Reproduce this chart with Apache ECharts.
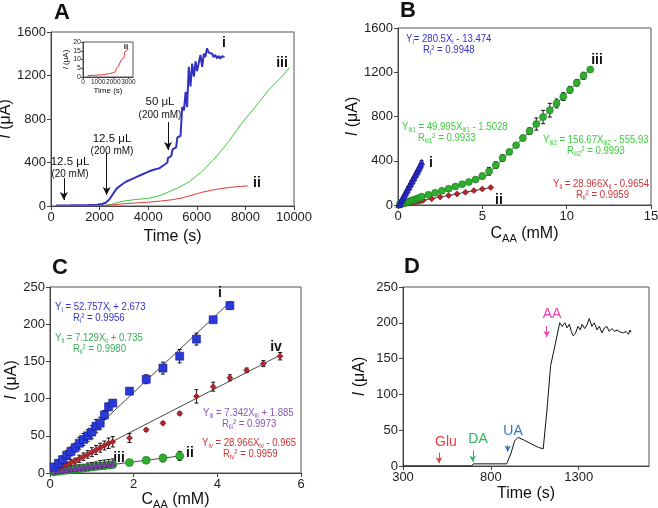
<!DOCTYPE html>
<html><head><meta charset="utf-8">
<script src="https://cdn.jsdelivr.net/npm/echarts@6/dist/echarts.min.js"></script>
<style>html,body{margin:0;padding:0;background:#fff}#c{width:658px;height:508px}</style>
</head><body><div id="c"></div>
<script>
// ---------- Panel A : current vs time ----------
const aTimeI = [200,800,1400,1900,2100,2250,2400,2550,2700,2900,3100,3300,3500,3700,3900,4050,4250,4450,4650,4790,4810,4950,5000,5150,5200,5330,5400,5470,5540,5600,5670,5740,5810,5880,5950,6010,6150,6220,6290,6350,6420,6490,6560,6630,6690,6760,6830,6900,6970,7030,7140];
const aValI  = [5,6,8,12,18,30,60,110,160,195,225,245,265,285,305,320,335,346,377,400,440,460,520,540,630,645,910,880,1050,910,1280,1100,1310,1190,1330,1240,1390,1280,1400,1370,1450,1410,1415,1400,1370,1390,1358,1380,1355,1378,1370];
const aTimeII = [200,1000,1800,2200,2600,3000,3500,4000,4500,5000,5400,5800,6200,6600,7000,7400,7800,8100];
const aValII  = [2,3,4,6,12,20,28,35,45,58,75,100,125,145,160,172,180,185];
const aTimeIII = [2200,2500,2700,3000,3400,4000,4400,4850,5300,5700,6200,6750,7300,7850,8400,8950,9500,9820];
const aValIII  = [5,15,30,45,58,70,90,130,175,225,315,440,590,760,910,1065,1190,1275];
const insetTime = [300,800,1300,1800,2000,2150,2200,2350,2400,2500,2550,2700,2750,2850,2900,3000];
const insetVal  = [0.8,1,1.3,2,2.5,3,5,6,7.5,8,10,11,14,14.5,15.5,16];
const aArrows = [[530,258,55],[2290,487,101],[4816,772,515]]; // x, yStart, yEnd

// ---------- Panel B : calibration ----------
const bXI = [0.05,0.1,0.15,0.2,0.25,0.3,0.35,0.4,0.45,0.5,0.55,0.6,0.65,0.7,0.75,0.8,0.85,0.9,0.95,1.0,1.05,1.1,1.15,1.2,1.25,1.3,1.35,1.4];
const bYI = [2,12,27,43,55,71,83,99,111,127,139,156,166,183,195,212,222,240,250,268,279,296,306,324,335,352,368,388];
const bEI = [3,4,4,5,5,6,6,6,7,7,7,8,8,8,8,9,9,9,9,10,10,10,10,10,11,11,11,12];
const bXII = [0.1,0.2,0.3,0.4,0.5,0.6,0.7,0.8,0.9,1.0,1.1,1.2,1.3,1.4,1.5,2.0,2.5,3.0,3.5,4.0,4.5,5.0,5.5];
const bYII = [2,5,8,11,14,16,19,22,25,28,31,34,37,40,43,57,72,86,100,115,130,144,158];
const bEII = [2,2,2,2,3,3,3,3,3,3,3,3,4,4,4,4,4,5,5,5,5,5,5];
const bXIII = [0.1,0.2,0.3,0.4,0.5,0.6,0.7,0.8,0.9,1.0,1.1,1.2,1.3,1.4,1.8,2.2,2.6,3.0,3.4,3.8,4.2,4.6,5.0,5.4,5.8,6.2,6.6,7.0,7.4,7.8,8.2,8.6,9.0,9.4,9.8,10.2,10.6,11.0,11.4];
const bYIII = [5,9,14,19,24,29,34,39,44,49,54,60,66,75,92,110,128,147,167,188,208,230,262,305,360,425,480,540,605,668,732,795,857,918,980,1042,1105,1168,1225];
const bEIII = [3,4,5,6,6,8,8,10,12,14,15,18,20,22,14,12,12,14,16,18,18,20,25,35,30,30,22,18,25,30,55,60,62,40,35,30,30,32,8];
const bFits = [ // slope, intercept, xStart, xEnd
  [280.5,-13.474,0.05,1.4],[28.966,-0.9654,0,5.5],[49.995,-1.5028,0,5.0],[156.67,-555.93,5.0,11.4]];

// ---------- Panel C : calibration (low range) ----------
const cXI = [0.1,0.2,0.3,0.4,0.5,0.6,0.7,0.8,0.9,1.0,1.1,1.2,1.3,1.4,1.5,1.9,2.3,2.7,3.1,3.5,3.9,4.3];
const cYI = [8,13,18,24,29,34,40,45,50,55,63,67,78,89,94,110,126,141,157,180,206,225];
const cEI = [5,5,5,6,6,6,8,8,8,9,9,8,6,5,3,4,6,8,9,8,2,5];
const cXII = [0.1,0.2,0.3,0.4,0.5,0.6,0.7,0.8,0.9,1.0,1.1,1.2,1.3,1.4,1.5,1.9,2.3,2.7,3.1];
const cYII = [1.4,2.2,2.9,3.6,4.3,5,5.7,6.4,7.1,7.9,8.6,9.3,10,10.7,11.4,14,17,20,23];
const cEII = [2,2,2,2,3,3,3,3,3,3,3,3,3,3,3,2,3,5,6];
const cXIII = [0.1,0.2,0.3,0.4,0.5,0.6,0.7,0.8,0.9,1.0,1.1,1.2,1.3,1.4,1.5];
const cYIII = [2.6,3.3,4.1,4.8,5.5,6.3,7,7.7,8.5,9.2,9.9,10.7,11.4,12.1,12.9];
const cEIII = [2,2,3,3,3,4,4,4,5,5,5,6,6,6,6];
const cXIV = [0.1,0.2,0.3,0.4,0.5,0.6,0.7,0.8,0.9,1.0,1.1,1.2,1.3,1.4,1.5,1.9,2.3,2.7,3.1,3.5,3.9,4.3,4.7,5.1,5.5];
const cYIV = [2,5,8,11,14,16,19,22,25,28,31,34,37,40,42,47,58,67,80,103,116,128,138,147,157];
const cEIV = [3,3,3,4,4,4,5,5,5,6,6,6,6,7,7,6,2,2,2,9,6,4,3,4,5];
const cFits = [[52.757,2.673,0,4.3],[7.129,0.735,0,3.1],[7.342,1.885,0,1.5],[28.966,-0.965,0,5.5]];

// ---------- Panel D : interference test ----------
const dTime = [300,500,690,700,720,890,900,915,935,955,990,1030,1070,1098,1120,1140,1168,1192,1206,1221,1234,1247,1258,1268,1281,1296,1309,1319,1334,1347,1360,1375,1389,1404,1417,1432,1447,1460,1474,1489,1504,1519,1536,1555,1570,1583,1592,1598];
const dVal  = [0,0,0,3,3,3,5,18,35,40,36,31,26,24,80,140,172,200,195,200,193,198,188,182,185,195,190,198,192,197,206,195,200,190,195,186,193,195,188,192,188,190,187,186,188,184,190,187];
const dMarks = [['Glu',505,18.6,4,'#e8413c'],['DA',697,22,6,'#2fb35a'],['UA',896,29,20,'#2b7bc0'],['AA',1118,195.5,180,'#ee3fb0']];

// ---------- styling helpers ----------
const FONT = 'Liberation Sans, Arial, sans-serif';
const axCol = '#444';
const plain = v => String(v);
function xAx(gi, min, max, interval, name, opts) {
  return Object.assign({type:'value', gridIndex:gi, min, max, interval, name,
    nameLocation:'middle', nameGap:22,
    nameTextStyle:{fontFamily:FONT, fontSize:16, color:'#111', rich:{n:{fontFamily:FONT,fontSize:16,color:'#111'}, s:{fontFamily:FONT,fontSize:11,color:'#111',verticalAlign:'bottom',padding:[10,0,0,0]}}},
    axisLine:{show:true,onZero:false,lineStyle:{color:axCol,width:1}},
    axisTick:{show:true,length:4,lineStyle:{color:axCol}},
    axisLabel:{fontFamily:FONT,fontSize:13,color:'#222',margin:5,showMaxLabel:true,formatter:plain},
    splitLine:{show:false}}, opts||{});
}
function yAx(gi, min, max, interval, opts) {
  return Object.assign({type:'value', gridIndex:gi, min, max, interval, name:'{i|I} (μA)',
    nameLocation:'middle', nameGap:31,
    nameTextStyle:{fontFamily:FONT, fontSize:16, color:'#111', rich:{i:{fontFamily:FONT,fontSize:16,fontStyle:'italic',color:'#111'}}},
    axisLine:{show:true,onZero:false,lineStyle:{color:axCol,width:1}},
    axisTick:{show:true,length:4,lineStyle:{color:axCol}},
    axisLabel:{fontFamily:FONT,fontSize:13,color:'#222',margin:5,formatter:plain},
    splitLine:{show:false}}, opts||{});
}
function zip(xs, ys){ return xs.map((x,i)=>[x,ys[i]]); }
function errSeries(ax, xs, ys, es) {
  return {type:'custom', xAxisIndex:ax, yAxisIndex:ax, z:3, silent:true,
    data: xs.map((x,i)=>[x, ys[i]-es[i], ys[i]+es[i]]),
    encode:{x:0, y:[1,2]},
    renderItem:(p, api)=>{
      const lo = api.coord([api.value(0), api.value(1)]);
      const hi = api.coord([api.value(0), api.value(2)]);
      const st = {stroke:'#111', lineWidth:1};
      return {type:'group', children:[
        {type:'line', shape:{x1:lo[0],y1:lo[1],x2:hi[0],y2:hi[1]}, style:st},
        {type:'line', shape:{x1:lo[0]-2,y1:lo[1],x2:lo[0]+2,y2:lo[1]}, style:st},
        {type:'line', shape:{x1:hi[0]-2,y1:hi[1],x2:hi[0]+2,y2:hi[1]}, style:st}]};
    }};
}
function fitSeries(ax, f) {
  return {type:'line', xAxisIndex:ax, yAxisIndex:ax, z:2, symbol:'none', silent:true,
    data:[[f[2], f[0]*f[2]+f[1]],[f[3], f[0]*f[3]+f[1]]],
    lineStyle:{color:'#333', width:0.9}};
}
function scat(ax, xs, ys, sym, size, color, border) {
  return {type:'scatter', xAxisIndex:ax, yAxisIndex:ax, z:4, symbol:sym, symbolSize:size,
    data:zip(xs,ys), itemStyle:{color, borderColor:border, borderWidth:0.6, opacity:1}};
}
function eq(x, y, color, parts) {
  const txt = parts.map(p => p[1] ? '{s|'+p[0]+'}' : '{n|'+p[0]+'}').join('');
  return {type:'text', x, y, scaleX:0.87, scaleY:1, style:{text:txt, fill:color, fontFamily:FONT, fontSize:11, verticalAlign:'middle',
    rich:{n:{fontFamily:FONT,fontSize:11,fill:color}, s:{fontFamily:FONT,fontSize:7,fill:color,verticalAlign:'bottom',padding:[6,0,0,0]}}}};
}
function tx(x, y, text, size, color, bold) {
  return {type:'text', x, y, style:{text, fontFamily:FONT, fontSize:size, fontWeight:bold?'bold':'normal', fill:color, align:'center', verticalAlign:'middle'}};
}

const chart = echarts.init(document.getElementById('c'), null, {renderer:'canvas'});
const gridBase = {show:true, borderColor:'#555', borderWidth:1, backgroundColor:'transparent', outerBoundsMode:'none', containLabel:false};
const option = {
  animation:false,
  backgroundColor:'#fff',
  grid:[
    Object.assign({left:51, top:32, width:243, height:174}, gridBase),
    Object.assign({left:83, top:42, width:50, height:35}, gridBase),
    Object.assign({left:398, top:28, width:253, height:177}, gridBase),
    Object.assign({left:50, top:287, width:251, height:186}, gridBase),
    Object.assign({left:403, top:287, width:246, height:179}, gridBase)
  ],
  xAxis:[
    xAx(0, 0, 10000, 2000, 'Time (s)', {nameGap:23}),
    xAx(1, 0, 3300, 1000, 'Time (s)', {nameGap:8, nameTextStyle:{fontFamily:FONT,fontSize:8,color:'#111'},
      axisTick:{show:true,length:2,lineStyle:{color:axCol}}, axisLabel:{fontFamily:FONT,fontSize:6.5,color:'#222',margin:2,showMaxLabel:false,formatter:plain}}),
    xAx(2, 0, 15, 5, '{n|C}{s|AA}{n| (mM)}', {nameGap:18}),
    xAx(3, 0, 6, 2, '{n|C}{s|AA}{n| (mM)}', {nameGap:16}),
    xAx(4, 300, 1700, 500, 'Time (s)', {nameGap:20, axisLabel:{fontFamily:FONT,fontSize:13,color:'#222',margin:5,showMaxLabel:false,formatter:plain}})
  ],
  yAxis:[
    yAx(0, 0, 1600, 400, {nameGap:33}),
    yAx(1, 0, 20, 5, {nameGap:11, nameTextStyle:{fontFamily:FONT,fontSize:8,color:'#111',rich:{i:{fontFamily:FONT,fontSize:8,fontStyle:'italic',color:'#111'}}},
      axisTick:{show:true,length:2,lineStyle:{color:axCol}}, axisLabel:{fontFamily:FONT,fontSize:7,color:'#222',margin:2,formatter:plain}}),
    yAx(2, 0, 1600, 400, {nameGap:33}),
    yAx(3, 0, 250, 50, {nameGap:30}),
    yAx(4, 0, 250, 50, {nameGap:35})
  ],
  series:[
    {type:'line', xAxisIndex:0, yAxisIndex:0, symbol:'none', data:zip(aTimeIII,aValIII), lineStyle:{color:'#3ec63e', width:1}},
    {type:'line', xAxisIndex:0, yAxisIndex:0, symbol:'none', data:zip(aTimeI,aValI), lineStyle:{color:'#3232c2', width:2},
      markLine:{silent:true, symbol:['none','arrow'], symbolSize:[6,8], label:{show:false},
        lineStyle:{color:'#111', width:1, type:'solid'},
        data:aArrows.map(a=>[{coord:[a[0],a[1]]},{coord:[a[0],a[2]]}])}},
    {type:'line', xAxisIndex:0, yAxisIndex:0, symbol:'none', data:zip(aTimeII,aValII), lineStyle:{color:'#e23a3a', width:1}},
    {type:'line', xAxisIndex:1, yAxisIndex:1, symbol:'none', data:zip(insetTime,insetVal), lineStyle:{color:'#e23a3a', width:1}},
    // Panel B
    ...bFits.map(f=>fitSeries(2,f)),
    scat(2, bXII, bYII, 'diamond', 6, '#b3262d', '#7a1014'),
    scat(2, bXIII, bYIII, 'circle', 7, '#2fae2f', '#1b7a1b'),
    scat(2, bXI, bYI, 'triangle', 6, '#2a2ad0', '#1a1a90'),
    errSeries(2, bXIII, bYIII, bEIII),
    errSeries(2, bXI, bYI, bEI),
    errSeries(2, bXII, bYII, bEII),
    // Panel C
    ...cFits.map(f=>fitSeries(3,f)),
    scat(3, cXII, cYII, 'circle', 8, '#2fae2f', '#1b7a1b'),
    scat(3, cXIV, cYIV, 'diamond', 6, '#b3262d', '#7a1014'),
    scat(3, cXIII, cYIII, 'triangle', 6, '#7d3fae', '#50207a'),
    scat(3, cXI, cYI, 'rect', 8, '#2a3ad8', '#1a1a90'),
    errSeries(3, cXI, cYI, cEI),
    errSeries(3, cXII, cYII, cEII),
    errSeries(3, cXIII, cYIII, cEIII),
    errSeries(3, cXIV, cYIV, cEIV),
    // Panel D
    {type:'line', xAxisIndex:4, yAxisIndex:4, symbol:'none', data:zip(dTime,dVal), lineStyle:{color:'#111', width:1},
      markLine:{silent:true, symbol:['none','arrow'], symbolSize:[5,6], label:{show:false},
        data:dMarks.map(m=>[{coord:[m[1],m[2]], lineStyle:{color:m[4],width:1,type:'solid'}},{coord:[m[1],m[3]]}])}}
  ],
  graphic:[
    tx(62,13,'A',22,'#111',true), tx(408,11,'B',22,'#111',true), tx(60,268,'C',22,'#111',true), tx(412,267,'D',22,'#111',true),
    // Panel A annotations
    tx(70,162,'12.5 μL',11.5,'#111'), tx(70,174,'(20 mM)',10,'#111'),
    tx(112,139,'12.5 μL',11.5,'#111'), tx(112,151,'(200 mM)',10,'#111'),
    tx(160,102,'50 μL',11.5,'#111'), tx(160,115,'(200 mM)',10,'#111'),
    tx(224,43,'i',14,'#111',true), tx(257,183,'ii',14,'#111',true), tx(282,63,'iii',14,'#111',true),
    tx(126,47,'ii',8,'#111',true),
    // Panel B labels
    tx(597,60,'iii',14,'#111',true), tx(431,163,'i',14,'#111',true), tx(499,200,'ii',14,'#111',true),
    eq(406, 39, '#3333cc', [['Y',0],['i',1],['= 280.5X',0],['i',1],[' - 13.474',0]]),
    eq(423, 50, '#3333cc', [['R',0],['i',1],['² = 0.9948',0]]),
    eq(402, 127, '#3ccc3c', [['Y',0],['iii1',1],[' = 49.995X',0],['iii1',1],[' - 1.5028',0]]),
    eq(418, 138, '#3ccc3c', [['R',0],['iii1',1],['² = 0.9933',0]]),
    eq(543, 140, '#3ccc3c', [['Y',0],['iii2',1],[' = 156.67X',0],['iii2',1],[' - 555.93',0]]),
    eq(567, 151, '#3ccc3c', [['R',0],['iii2',1],['² = 0.9993',0]]),
    eq(553, 184, '#cc3333', [['Y',0],['ii',1],[' = 28.966X',0],['ii',1],[' - 0.9654',0]]),
    eq(576, 195, '#cc3333', [['R',0],['ii',1],['² = 0.9959',0]]),
    // Panel C labels
    tx(220,293,'i',14,'#111',true), tx(276,347,'iv',14,'#111',true), tx(119,458,'iii',14,'#111',true), tx(190,453,'ii',14,'#111',true),
    eq(55, 307, '#3333cc', [['Y',0],['i',1],[' = 52.757X',0],['i',1],[' + 2.673',0]]),
    eq(73, 318, '#3333cc', [['R',0],['i',1],['² = 0.9956',0]]),
    eq(55, 338, '#3aae5a', [['Y',0],['ii',1],[' = 7.129X',0],['ii',1],[' + 0.735',0]]),
    eq(73, 349, '#3aae5a', [['R',0],['ii',1],['² = 0.9980',0]]),
    eq(203, 413, '#8a55c0', [['Y',0],['iii',1],[' = 7.342X',0],['iii',1],[' + 1.885',0]]),
    eq(222, 424, '#8a55c0', [['R',0],['iii',1],['² = 0.9973',0]]),
    eq(202, 443, '#cc3333', [['Y',0],['iv',1],[' = 28.966X',0],['iv',1],[' - 0.965',0]]),
    eq(223, 454, '#cc3333', [['R',0],['iv',1],['² = 0.9959',0]]),
    // Panel D labels
    ...dMarks.map((m,i)=>tx([446,478,513,552][i], [442,439,431,314][i], m[0], 14, m[4]))
  ]
};
chart.setOption(option);
</script></body></html>
